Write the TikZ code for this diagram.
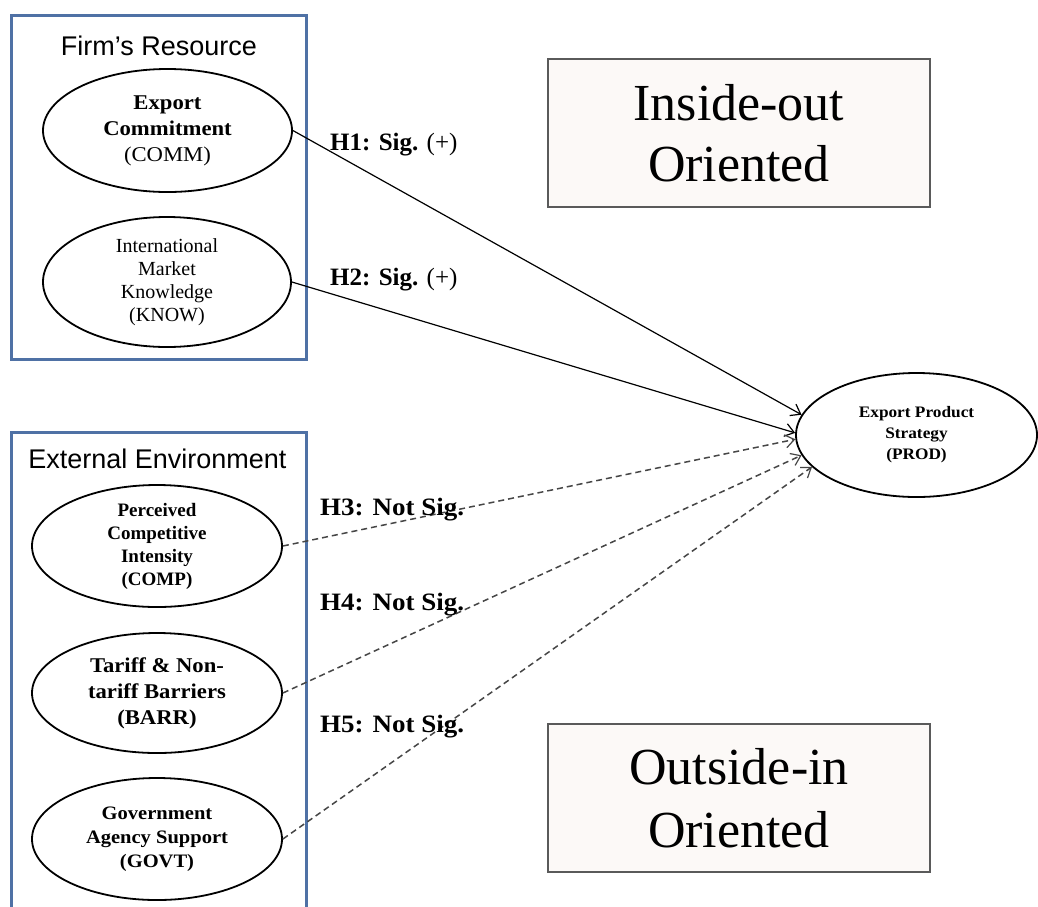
\documentclass[tikz,border=0pt]{standalone}
\usepackage{fontspec}
\setmainfont{Liberation Serif}
\newfontfamily\headfont{Liberation Sans}
\newfontfamily\wideserif[FakeStretch=1.08]{Liberation Serif}
\usetikzlibrary{shapes.geometric,arrows.meta}

\definecolor{frameblue}{RGB}{79,113,165}
\definecolor{panelfill}{RGB}{252,249,247}
\definecolor{panelrule}{RGB}{90,90,90}
\definecolor{dashgray}{RGB}{70,70,70}

\tikzset{
  groupbox/.style={draw=frameblue, line width=3pt, inner sep=0pt},
  grouptitle/.style={font=\headfont\fontsize{27}{30}\selectfont, anchor=base},
  construct/.style={ellipse, draw=black, line width=1.8pt, fill=white,
    inner sep=0pt, align=center},
  panel/.style={draw=panelrule, line width=1.4pt, fill=panelfill,
    minimum width=382pt, minimum height=148pt, align=center},
  hyp/.style={anchor=base west, font=\fontsize{25}{28}\selectfont, inner sep=0pt},
  widehyp/.style={hyp, font=\wideserif\fontsize{25}{28}\selectfont},
  sigpath/.style={draw=black, line width=1.2pt,
    -{Straight Barb[length=9pt,width=13pt,line width=1.2pt]}},
  nspath/.style={draw=dashgray, line width=1.5pt, dash pattern=on 6pt off 4pt,
    -{Straight Barb[length=9pt,width=13pt,line width=1.2pt]}},
}

\begin{document}
\begin{tikzpicture}[x=1pt,y=-1pt]
  \useasboundingbox (0,0) rectangle (1038,906);
  \fill[white] (0,0) rectangle (1038,906);
  \clip (0,0) rectangle (1038,906);

  % orientation panels
  \node[panel, font=\fontsize{52}{61}\selectfont] (inout) at (739,133) {Inside-out\\Oriented};
  \node[panel, font=\fontsize{52}{63}\selectfont] (outin) at (739,798) {Outside-in\\Oriented};

  % group frames
  \node[groupbox, minimum width=295pt, minimum height=344pt] (firm) at (158.5,187) {};
  \node[groupbox, minimum width=295pt, minimum height=500pt] (env) at (158.5,682) {};
  \node[grouptitle] (firmtitle) at (159,55) {Firm’s Resource};
  \node[grouptitle] (envtitle) at (157.5,468) {External Environment};

  % constructs
  \node[construct, minimum width=249pt, minimum height=123pt,
        font=\wideserif\fontsize{21}{26}\selectfont] (comm) at (167.5,130.5)
        {\textbf{Export}\\\textbf{Commitment}\\(COMM)};
  \node[construct, minimum width=248pt, minimum height=130pt,
        font=\fontsize{20}{23}\selectfont] (know) at (167,282)
        {International\\Market\\Knowledge\\(KNOW)};
  \node[construct, minimum width=250pt, minimum height=122pt,
        font=\bfseries\fontsize{19}{23}\selectfont] (comp) at (157,546)
        {Perceived\\Competitive\\Intensity\\(COMP)};
  \node[construct, minimum width=250pt, minimum height=120pt,
        font=\wideserif\bfseries\fontsize{21}{26}\selectfont] (barr) at (157,693)
        {Tariff \& Non-\\tariff Barriers\\(BARR)};
  \node[construct, minimum width=250pt, minimum height=122pt,
        font=\wideserif\bfseries\fontsize{19}{24}\selectfont] (govt) at (157,839)
        {Government\\Agency Support\\(GOVT)};
  \node[construct, minimum width=241pt, minimum height=124pt,
        font=\wideserif\bfseries\fontsize{16}{21}\selectfont] (prod) at (916.5,435)
        {Export Product\\Strategy\\(PROD)};

  % hypothesised paths
  \draw[sigpath] (comm.east) -- (prod.170);
  \draw[sigpath] (know.east) -- (prod.179);
  \draw[nspath]  (comp.east) -- (prod.182);
  \draw[nspath]  (barr.east) -- (prod.190);
  \draw[nspath]  (govt.east) -- (prod.197);

  % path labels
  \node[hyp] (h1) at (330,150) {\textbf{H1: Sig.} (+)};
  \node[hyp] (h2) at (330,285) {\textbf{H2: Sig.} (+)};
  \node[widehyp] (h3) at (320,515) {\textbf{H3: Not Sig.}};
  \node[widehyp] (h4) at (320,610) {\textbf{H4: Not Sig.}};
  \node[widehyp] (h5) at (320,732) {\textbf{H5: Not Sig.}};
\end{tikzpicture}
\end{document}
